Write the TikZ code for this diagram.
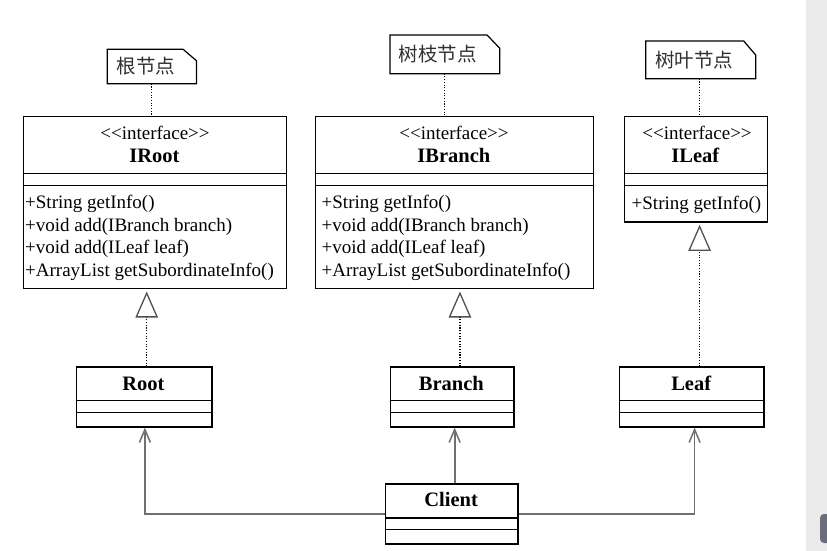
\documentclass[tikz,border=0pt]{standalone}
\usepackage{fontspec}
\setmainfont{Liberation Serif}
\newfontfamily\cjk{Noto Sans CJK SC}
\usetikzlibrary{arrows.meta}
\definecolor{lineg}{HTML}{707070}
\definecolor{trig}{HTML}{505050}
\definecolor{bandg}{HTML}{EBEBEB}
\definecolor{tabg}{HTML}{6A6D7A}
\definecolor{notetxt}{HTML}{303030}
\begin{document}
\begin{tikzpicture}[x=1pt,y=-1pt,
  uml/.style={draw=black,line width=1.3pt,fill=white,rectangle,inner sep=0pt,anchor=north west},
  notebox/.style={rectangle,inner sep=0pt,anchor=north west},
  notetext/.style={font=\cjk\fontsize{19.5}{20}\selectfont,text=notetxt,inner sep=0pt},
  stereo/.style={font=\fontsize{19}{22}\selectfont,inner sep=0pt,anchor=base},
  cname/.style={font=\bfseries\fontsize{20.5}{22}\selectfont,inner sep=0pt,anchor=base},
  meth/.style={font=\fontsize{19}{22}\selectfont,inner sep=0pt,anchor=base west},
  divider/.style={draw=black,line width=1.3pt},
  noteedge/.style={draw=black,line width=1.2pt,fill=white,line join=miter},
  notelink/.style={draw=black,line width=1.1pt,dash pattern=on 1.1pt off 1.6pt},
  realize/.style={draw=black,line width=1.1pt,dash pattern=on 1.1pt off 1.6pt,
    -{Triangle[length=26pt,width=22.4pt,color=trig,fill=white,line width=1.3pt]},shorten >=2.2pt},
  assoc/.style={draw=lineg,line width=1.7pt,-{Straight Barb[length=13pt,width=11pt,line width=1.5pt]}},
]
\useasboundingbox (0,0) rectangle (827,551);
\fill[white] (0,0) rectangle (827,551);
\fill[bandg] (806,0) rectangle (827,551);
\begin{scope}
  \clip (0,0) rectangle (827,551);
  \fill[tabg,rounded corners=4pt] (820,514) rectangle (836,543);
\end{scope}

% ---------- notes ----------
\node[notebox,minimum width=88.7pt,minimum height=34pt] (n1) at (107.3,49.3) {};
\draw[noteedge] (n1.north west) -- ([xshift=-13.3pt]n1.north east) -- ([yshift=-11.4pt]n1.north east) -- (n1.south east) -- (n1.south west) -- cycle;
\node[notetext] (n1t) at ([xshift=-6pt]n1.center) {根节点};

\node[notebox,minimum width=109.3pt,minimum height=38.3pt] (n2) at (390,35) {};
\draw[noteedge] (n2.north west) -- ([xshift=-12.6pt]n2.north east) -- ([yshift=-13.3pt]n2.north east) -- (n2.south east) -- (n2.south west) -- cycle;
\node[notetext] (n2t) at ([xshift=-7pt]n2.center) {树枝节点};

\node[notebox,minimum width=109.6pt,minimum height=37.3pt] (n3) at (645.7,41) {};
\draw[noteedge] (n3.north west) -- ([xshift=-12pt]n3.north east) -- ([yshift=-14pt]n3.north east) -- (n3.south east) -- (n3.south west) -- cycle;
\node[notetext] (n3t) at ([xshift=-6.3pt]n3.center) {树叶节点};

% ---------- interfaces ----------
\node[uml,minimum width=263pt,minimum height=172.5pt] (iroot) at (23,115.5) {};
\draw[divider] ([yshift=-58.2pt]iroot.north west) -- ([yshift=-58.2pt]iroot.north east);
\draw[divider] ([yshift=-69.7pt]iroot.north west) -- ([yshift=-69.7pt]iroot.north east);
\node[stereo] (irootst) at (155,139) {{<}{<}interface{>}{>}};
\node[cname] (irootnm) at (154.5,162) {IRoot};
\node[meth] (ir1) at (25,208.5) {+String getInfo()};
\node[meth] (ir2) at (25,231.2) {+void add(IBranch branch)};
\node[meth] (ir3) at (25,253.9) {+void add(ILeaf leaf)};
\node[meth] (ir4) at (25,276.6) {+ArrayList getSubordinateInfo()};

\node[uml,minimum width=277.7pt,minimum height=172.5pt] (ibranch) at (315,115.5) {};
\draw[divider] ([yshift=-58.2pt]ibranch.north west) -- ([yshift=-58.2pt]ibranch.north east);
\draw[divider] ([yshift=-69.7pt]ibranch.north west) -- ([yshift=-69.7pt]ibranch.north east);
\node[stereo] (ibranchst) at (454,139) {{<}{<}interface{>}{>}};
\node[cname] (ibranchnm) at (453.8,162) {IBranch};
\node[meth] (ib1) at (321.5,208.5) {+String getInfo()};
\node[meth] (ib2) at (321.5,231.2) {+void add(IBranch branch)};
\node[meth] (ib3) at (321.5,253.9) {+void add(ILeaf leaf)};
\node[meth] (ib4) at (321.5,276.6) {+ArrayList getSubordinateInfo()};

\node[uml,minimum width=142.7pt,minimum height=105.8pt] (ileaf) at (624,115.5) {};
\draw[divider] ([yshift=-58.2pt]ileaf.north west) -- ([yshift=-58.2pt]ileaf.north east);
\draw[divider] ([yshift=-69.7pt]ileaf.north west) -- ([yshift=-69.7pt]ileaf.north east);
\node[stereo] (ileafst) at (697,139) {{<}{<}interface{>}{>}};
\node[cname] (ileafnm) at (695.3,162) {ILeaf};
\node[meth] (il1) at (631.5,209.5) {+String getInfo()};

% ---------- classes ----------
\node[uml,minimum width=135.5pt,minimum height=60pt] (root) at (75.7,366.3) {};
\draw[divider] ([yshift=-34pt]root.north west) -- ([yshift=-34pt]root.north east);
\draw[divider] ([yshift=-46pt]root.north west) -- ([yshift=-46pt]root.north east);
\node[cname] (rootnm) at (143.5,390) {Root};

\node[uml,minimum width=123.8pt,minimum height=60pt] (branch) at (389.5,366.3) {};
\draw[divider] ([yshift=-34pt]branch.north west) -- ([yshift=-34pt]branch.north east);
\draw[divider] ([yshift=-46pt]branch.north west) -- ([yshift=-46pt]branch.north east);
\node[cname] (branchnm) at (451.4,390) {Branch};

\node[uml,minimum width=144.3pt,minimum height=60pt] (leaf) at (619,366.3) {};
\draw[divider] ([yshift=-34pt]leaf.north west) -- ([yshift=-34pt]leaf.north east);
\draw[divider] ([yshift=-46pt]leaf.north west) -- ([yshift=-46pt]leaf.north east);
\node[cname] (leafnm) at (691.2,390) {Leaf};

\node[uml,minimum width=132.3pt,minimum height=60pt] (client) at (385,483.3) {};
\draw[divider] ([yshift=-34.7pt]client.north west) -- ([yshift=-34.7pt]client.north east);
\draw[divider] ([yshift=-46pt]client.north west) -- ([yshift=-46pt]client.north east);
\node[cname] (clientnm) at (451.2,506.7) {Client};

% ---------- connectors ----------
\draw[notelink] (n1.south) -- (n1.south |- iroot.north);
\draw[notelink] (n2.south) -- (n2.south |- ibranch.north);
\draw[notelink] ([xshift=-1.5pt]n3.south) -- ([xshift=-1.5pt]n3.south |- ileaf.north);

\draw[realize] ([xshift=2.6pt]root.north) -- ([xshift=2.6pt]root.north |- iroot.south);
\draw[realize] ([xshift=7.9pt]branch.north) -- ([xshift=7.9pt]branch.north |- ibranch.south);
\draw[realize] ([xshift=7.8pt]leaf.north) -- ([xshift=7.8pt]leaf.north |- ileaf.south);

\draw[assoc] (client.west) -| ([xshift=0.8pt]root.south);
\draw[assoc] ([xshift=2.6pt]branch.south |- client.north) -- ([xshift=2.6pt]branch.south);
\draw[assoc] (client.east) -| ([xshift=2.8pt]leaf.south);
\end{tikzpicture}
\end{document}
